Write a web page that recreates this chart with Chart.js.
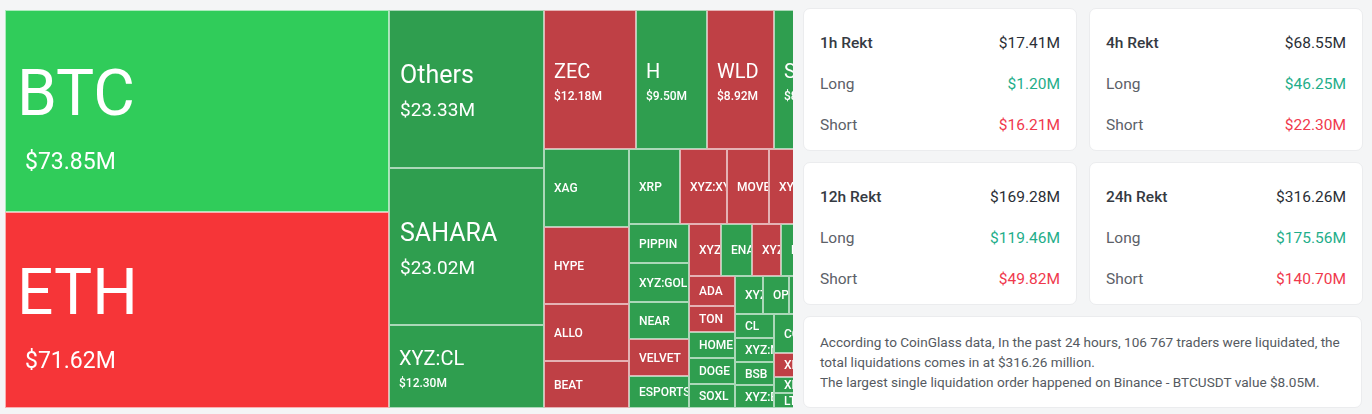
<!DOCTYPE html>
<html>
<head>
<meta charset="utf-8">
<script src="https://cdn.jsdelivr.net/npm/chart.js@4"></script>
<style>
  html, body { margin: 0; padding: 0; }
  body { width: 1372px; height: 414px; background: #f4f5f6; position: relative; overflow: hidden; font-family: Roboto, "Noto Sans", sans-serif; }
  #map { position: absolute; left: 5px; top: 10px; width: 788px; height: 398px; overflow: hidden; }
  .card { position: absolute; background: #fff; border: 1px solid #ebecee; border-radius: 7px; box-sizing: border-box; padding: 13px 16px 0 16px; }
  .row { display: flex; justify-content: space-between; align-items: center; height: 41px; font-size: 15.5px; color: #5c6168; }
  .row.head { color: #353a42; font-weight: 500; }
  .row.head span:last-child { font-weight: 400; color: #2b2f36; }
  .long { color: #1fae8a; }
  .short { color: #f0394d; }
  #note { position: absolute; left: 803px; top: 316px; width: 559px; height: 92px; background: #fff; border: 1px solid #ebecee; border-radius: 7px; box-sizing: border-box; padding: 15px 16px; font-size: 13.6px; line-height: 20px; color: #555a61; white-space: nowrap; }
</style>
</head>
<body>
<div id="map"><canvas id="treemap" width="832" height="398"></canvas></div>
<div id="cards"></div>
<div id="note">According to CoinGlass data, In the past 24 hours, 106 767 traders were liquidated, the<br>total liquidations comes in at $316.26 million.<br>The largest single liquidation order happened on Binance - BTCUSDT value $8.05M.</div>
<script>
// liquidations by coin, $M (24h)
const coins = ['BTC', 'ETH', 'Others', 'SAHARA', 'XYZ:CL', 'ZEC', 'H', 'WLD', 'SOL',
  'XAG', 'HYPE', 'ALLO', 'BEAT', 'XRP', 'XYZ:XYZ100', 'MOVE', 'XYZ:PLTR', 'FARTCOIN',
  'PIPPIN', 'XYZ:GOLD', 'NEAR', 'VELVET', 'ESPORTS', 'XYZ:TSLA', 'ENA', 'XYZ:SILVER', 'LINK', 'PUMP',
  'ADA', 'TON', 'HOME', 'DOGE', 'SOXL', 'XYZ:AMZN', 'OP', 'TRUMP', 'SUI',
  'CL', 'XYZ:NVDA', 'BSB', 'XYZ:BABA', 'CC', 'AAVE', 'ONDO', 'XMR', 'XPL', 'LTC',
  'BNB', 'PENGU', 'AVAX', 'TAO', 'XYZ:META', 'LINEA'];
const liquidations = [73.85, 71.62, 23.33, 23.02, 12.30, 12.18, 9.50, 8.92, 8.30,
  6.25, 6.22, 4.62, 3.82, 3.62, 3.33, 2.95, 2.55, 2.28,
  2.25, 2.24, 2.13, 2.11, 1.83, 1.56, 1.54, 1.46, 1.38, 1.36,
  1.34, 1.14, 1.13, 1.12, 1.07, 1.03, 0.96, 0.90, 0.88,
  0.88, 0.87, 0.86, 0.84, 0.80, 0.78, 0.72, 0.60, 0.40, 0.38,
  0.36, 0.35, 0.34, 0.33, 0.31, 0.27];
// 1 = mostly longs rekt (green), -1 = mostly shorts rekt (red)
const bias = [1, -1, 1, 1, 1, -1, 1, -1, 1,
  1, -1, -1, -1, 1, -1, -1, -1, -1,
  1, 1, 1, -1, 1, -1, 1, -1, 1, 1,
  -1, -1, 1, 1, 1, 1, 1, 1, 1,
  1, 1, 1, 1, 1, 1, 1, -1, 1, 1,
  1, -1, 1, 1, -1, 1];

// rekt summary cards
const periods = ['1h', '4h', '12h', '24h'];
const totalRekt = [17.41, 68.55, 169.28, 316.26];
const longRekt = [1.20, 46.25, 119.46, 175.56];
const shortRekt = [16.21, 22.30, 49.82, 140.70];

const money = v => '$' + v.toFixed(2) + 'M';

const cardsEl = document.getElementById('cards');
periods.forEach((p, i) => {
  const card = document.createElement('div');
  card.className = 'card';
  card.style.left = (i % 2 ? 1089 : 803) + 'px';
  card.style.top = (i < 2 ? 8 : 162) + 'px';
  card.style.width = '274px';
  card.style.height = '143px';
  card.innerHTML =
    '<div class="row head"><span>' + p + ' Rekt</span><span>' + money(totalRekt[i]) + '</span></div>' +
    '<div class="row"><span>Long</span><span class="long">' + money(longRekt[i]) + '</span></div>' +
    '<div class="row"><span>Short</span><span class="short">' + money(shortRekt[i]) + '</span></div>';
  cardsEl.appendChild(card);
});

// squarified layout, same rules as echarts treemap
const RATIO = 0.5 * (1 + Math.sqrt(5));

function worst(row, s, w) {
  let max = 0, min = Infinity;
  row.forEach(r => { max = Math.max(max, r.area); min = Math.min(min, r.area); });
  const f = w * w * RATIO;
  return Math.max(f * max / (s * s), (s * s) / (f * min));
}

function place(row, s, w, rect, flush, out) {
  const horiz = w === rect.w;
  let thick = w ? s / w : 0;
  const other = horiz ? rect.h : rect.w;
  if (flush || thick > other) thick = other;
  let pos = horiz ? rect.x : rect.y;
  const end = pos + (horiz ? rect.w : rect.h);
  row.forEach((r, k) => {
    const step = r.area / thick;
    const len = (k === row.length - 1 || end - pos < step) ? end - pos : step;
    out[r.i] = horiz ? { x: pos, y: rect.y, w: len, h: thick } : { x: rect.x, y: pos, w: thick, h: len };
    pos += len;
  });
  if (horiz) { rect.y += thick; rect.h -= thick; } else { rect.x += thick; rect.w -= thick; }
}

function squarify(items, rect) {
  const out = [];
  const queue = items.slice();
  let row = [], s = 0, best = Infinity;
  let w = Math.min(rect.w, rect.h);
  while (queue.length) {
    const it = queue[0];
    row.push(it); s += it.area;
    const score = worst(row, s, w);
    if (score <= best) { queue.shift(); best = score; }
    else {
      row.pop(); s -= it.area;
      place(row, s, w, rect, false, out);
      w = Math.min(rect.w, rect.h);
      row = []; s = 0; best = Infinity;
    }
  }
  if (row.length) place(row, s, w, rect, true, out);
  return out;
}

const colorFor = i => {
  const big = liquidations[i] >= 50;
  if (bias[i] > 0) return big ? '#30cc5a' : '#2f9e4f';
  return big ? '#f63538' : '#bf4045';
};

const treemapPlugin = {
  id: 'treemap',
  beforeDatasetsDraw(chart) {
    const { ctx, chartArea: a, scales: { x, y } } = chart;
    const W = a.right - a.left, H = a.bottom - a.top;
    const total = liquidations.reduce((p, q) => p + q, 0);
    const items = liquidations.map((v, i) => ({ i, v, area: v * W * H / total }))
      .sort((p, q) => q.v - p.v);
    const cells = squarify(items, { x: 0, y: 0, w: W, h: H });

    cells.forEach((c, i) => {
      const x0 = Math.round(x.getPixelForValue(c.x / W * 100));
      const x1 = Math.round(x.getPixelForValue((c.x + c.w) / W * 100));
      const y0 = Math.round(y.getPixelForValue(c.y / H * 100));
      const y1 = Math.round(y.getPixelForValue((c.y + c.h) / H * 100));
      const v = liquidations[i];

      ctx.save();
      ctx.fillStyle = colorFor(i);
      ctx.fillRect(x0, y0, x1 - x0, y1 - y0);
      ctx.strokeStyle = 'rgba(255,255,255,0.6)';
      ctx.lineWidth = 1;
      ctx.strokeRect(x0 + 0.5, y0 + 0.5, x1 - x0 - 1, y1 - y0 - 1);

      ctx.beginPath();
      ctx.rect(x0 + 1, y0 + 1, x1 - x0 - 2, y1 - y0 - 2);
      ctx.clip();
      ctx.fillStyle = '#fff';
      ctx.textAlign = 'left';
      const cy = (y0 + y1) / 2;
      if (v >= 50) {
        ctx.textBaseline = 'alphabetic';
        ctx.font = '400 64px Roboto';
        ctx.fillText(coins[i], x0 + 12, cy + 4);
        ctx.font = '400 23px Roboto';
        ctx.fillText(money(v), x0 + 20, cy + 58);
      } else if (v >= 20) {
        ctx.textBaseline = 'alphabetic';
        ctx.font = '400 25px Roboto';
        ctx.fillText(coins[i], x0 + 11, cy - 6);
        ctx.font = '400 19px Roboto';
        ctx.fillText(money(v), x0 + 11, cy + 27);
      } else if (v >= 7) {
        ctx.textBaseline = 'alphabetic';
        ctx.font = '400 20px Roboto';
        ctx.fillText(coins[i], x0 + 10, cy - 2);
        ctx.font = '500 12px Roboto';
        ctx.fillText(money(v), x0 + 10, cy + 20);
      } else {
        ctx.textBaseline = 'middle';
        ctx.font = '500 12px Roboto';
        ctx.fillText(coins[i], x0 + 10, cy + 1);
      }
      ctx.restore();
    });
  }
};

new Chart(document.getElementById('treemap'), {
  type: 'scatter',
  data: {
    datasets: [{
      label: 'Liquidations',
      data: liquidations.map((v, i) => ({ x: i, y: v })),
      pointRadius: 0,
      showLine: false
    }]
  },
  options: {
    responsive: false,
    animation: false,
    layout: { padding: 0 },
    plugins: { legend: { display: false }, tooltip: { enabled: false } },
    scales: {
      x: { type: 'linear', display: false, min: 0, max: 100 },
      y: { type: 'linear', display: false, min: 0, max: 100, reverse: true }
    }
  },
  plugins: [treemapPlugin]
});
</script>
</body>
</html>
